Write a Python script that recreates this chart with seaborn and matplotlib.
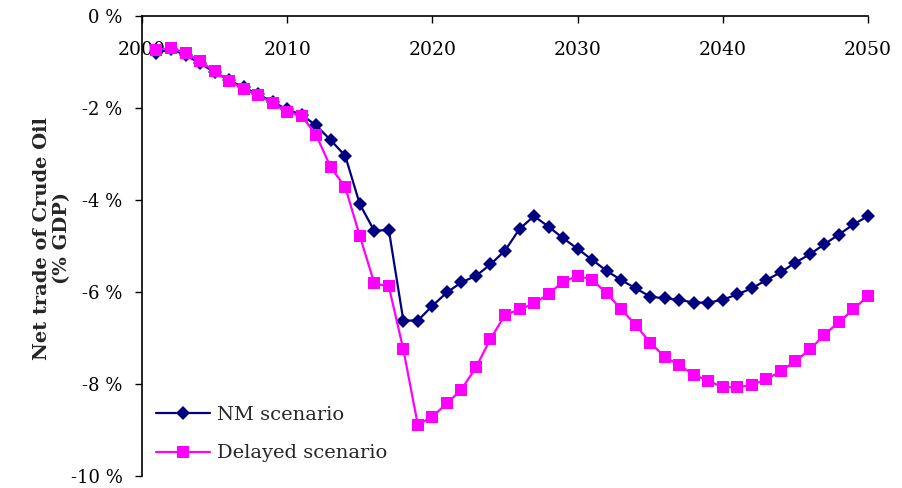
import numpy as np
import pandas as pd
import seaborn as sns
import matplotlib.pyplot as plt

years = list(range(2001, 2051))

nm_scenario = [-0.80, -0.72, -0.85, -1.03, -1.22, -1.40, -1.55, -1.70, -1.87, -2.03,
               -2.15, -2.38, -2.70, -3.04, -4.09, -4.67, -4.65, -6.62, -6.62, -6.30,
               -6.01, -5.79, -5.65, -5.40, -5.10, -4.63, -4.35, -4.58, -4.83, -5.06,
               -5.30, -5.54, -5.74, -5.92, -6.10, -6.14, -6.17, -6.23, -6.23, -6.17,
               -6.05, -5.92, -5.74, -5.57, -5.36, -5.18, -4.96, -4.75, -4.53, -4.35]

delayed_scenario = [-0.74, -0.69, -0.80, -0.98, -1.20, -1.41, -1.59, -1.72, -1.90, -2.08,
                    -2.17, -2.59, -3.29, -3.72, -4.78, -5.81, -5.88, -7.25, -8.89, -8.71,
                    -8.42, -8.12, -7.64, -7.02, -6.50, -6.38, -6.25, -6.04, -5.78, -5.65,
                    -5.73, -6.03, -6.37, -6.72, -7.10, -7.41, -7.59, -7.80, -7.93, -8.07,
                    -8.07, -8.02, -7.90, -7.72, -7.50, -7.25, -6.93, -6.65, -6.38, -6.08]

series_names = ['NM scenario', 'Delayed scenario']

df = pd.DataFrame({
    'year': years * 2,
    'value': nm_scenario + delayed_scenario,
    'scenario': [series_names[0]] * len(years) + [series_names[1]] * len(years),
})

sns.set_style('white')
plt.rcParams['font.family'] = ['DejaVu Serif']

fig = plt.figure(figsize=(9.02, 4.88), dpi=100)
ax = fig.add_axes([0.1574, 0.0246, 0.8049, 0.9426])

sns.lineplot(data=df, x='year', y='value', hue='scenario', style='scenario',
             palette={'NM scenario': '#000080', 'Delayed scenario': '#FF00FF'},
             markers={'NM scenario': 'D', 'Delayed scenario': 's'},
             dashes=False, linewidth=1.6, markeredgewidth=0, ax=ax)
for line in ax.lines:
    line.set_clip_on(False)
ax.lines[0].set_markersize(7.5)
ax.lines[1].set_markersize(8.5)

ax.set_xlim(2000, 2050)
ax.set_ylim(-10, 0)
ax.set_xticks(range(2000, 2051, 10))
ax.set_yticks(range(-10, 1, 2))
ax.set_yticklabels([f'{v} %' for v in range(-10, 1, 2)])
ax.set_xticklabels([str(v) for v in range(2000, 2051, 10)])

ax.spines['bottom'].set_position(('data', 0))
ax.spines['top'].set_visible(False)
ax.spines['right'].set_visible(False)
for s in ('left', 'bottom'):
    ax.spines[s].set_color('black')
    ax.spines[s].set_linewidth(1.2)
ax.xaxis.set_ticks_position('bottom')
ax.yaxis.set_ticks_position('left')
ax.tick_params(axis='x', direction='out', length=5, width=1, pad=13,
               colors='black', labelsize=13.5)
ax.tick_params(axis='y', direction='out', length=5, width=1, pad=9,
               colors='black', labelsize=13)

ax.set_xlabel('')
ax.set_ylabel('Net trade of Crude Oil\n(% GDP)', fontsize=14, fontweight='bold')
ax.yaxis.set_label_coords(-0.097, 0.517)

leg = ax.legend(loc='lower left', bbox_to_anchor=(0.0, 0.0), frameon=False, fontsize=14,
                handlelength=2.8, handletextpad=0.35, labelspacing=1.05, borderaxespad=0.3)
sizes = [7.5, 8.5]
for h, ms in zip(leg.legend_handles, sizes):
    h.set_markersize(ms)
    h.set_linewidth(1.6)

fig.savefig('out.png', dpi=100)
